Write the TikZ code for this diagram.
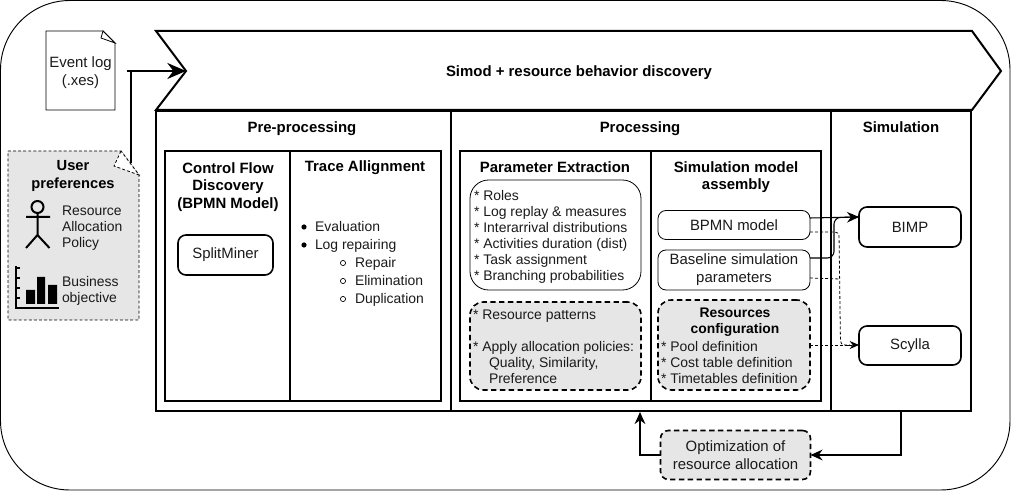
\documentclass[tikz,border=0pt]{standalone}
\usepackage{fontspec}
\setmainfont{Liberation Sans}
\usetikzlibrary{arrows.meta,calc}
\definecolor{fillgray}{HTML}{E6E6E6}
\definecolor{txt}{HTML}{1A1A1A}
\tikzset{
 x=0.75pt,y=-0.75pt,
 every node/.style={font=\fontsize{11.2}{13.5}\selectfont,text=txt,inner sep=0pt,outer sep=0pt,align=center},
 frame/.style={draw=black,line width=1.5pt},
 thinbox/.style={draw=black,line width=0.6pt,rounded corners=6pt,fill=white},
 boldbox/.style={draw=black,line width=1.2pt,rounded corners=6pt,fill=white},
 dashbox/.style={draw=black,line width=1.2pt,dash pattern=on 4pt off 2.6pt,rounded corners=10pt,fill=fillgray},
 head/.style={font=\bfseries\fontsize{11.2}{13}\selectfont,text=black},
 item/.style={align=left,anchor=north west,font=\fontsize{10.45}{12}\selectfont},
 flow/.style={draw=black,line width=1.3pt,-{Stealth[length=9pt,width=8pt]}},
 dflow/.style={draw=black,line width=0.6pt,dash pattern=on 2.2pt off 1.6pt},
}
\newcommand{\px}[2]{\path[use as bounding box] (0,0) rectangle (#1,#2);}
\begin{document}
\begin{tikzpicture}
\px{1011}{491}
% outer
\draw[black,line width=0.7pt,rounded corners=52pt] (0.5,0.5) rectangle (1010,490);
% simod arrow
\draw[frame,fill=white,line join=miter] (156,31) -- (972,31) -- (1001,71) -- (972,110) -- (156,110) -- (186,71) -- cycle;
\coordinate (tip) at (186,71);
\node[head] (simod) at (579,73) {Simod + resource behavior discovery};
% main frames
\node[frame,minimum width=221.25pt,minimum height=225pt,anchor=north west] (pre) at (156,111) {};
\node[frame,minimum width=285pt,minimum height=225pt,anchor=north west] (proc) at (451,111) {};
\node[frame,minimum width=105pt,minimum height=225pt,anchor=north west] (sim) at (831,111) {};
\node[head] (preT) at (302,129) {Pre-processing};
\node[head] (procT) at (640,129) {Processing};
\node[head] (simT) at (901,127) {Simulation};
% inner frames
\node[frame,minimum width=93.75pt,minimum height=187.5pt,anchor=north west] (cfd) at (165,151) {};
\node[frame,minimum width=113.25pt,minimum height=187.5pt,anchor=north west] (ta) at (290,151) {};
\node[frame,minimum width=143.25pt,minimum height=187.5pt,anchor=north west] (pe) at (460,151) {};
\node[frame,minimum width=127.5pt,minimum height=187.5pt,anchor=north west] (sma) at (651,151) {};
\node[head] (cfdT) at (228,187) {Control Flow\\Discovery\\(BPMN Model)};
\node[head] (taT) at (365,168) {Trace Allignment};
\node[head] (peT) at (555,167) {Parameter Extraction};
\node[head] (smaT) at (736,177) {Simulation model\\assembly};
\node[boldbox,minimum width=71.25pt,minimum height=30pt] (split) at (225.5,255) {SplitMiner};
% trace list
\node[item] (l1) at (315,221) {Evaluation};
\node[item] (l2) at (315,239) {Log repairing};
\node[item] (l3) at (355,257) {Repair};
\node[item] (l4) at (355,275) {Elimination};
\node[item] (l5) at (355,293) {Duplication};
\fill[black] (304,227) circle (2.6) (304,245) circle (2.6);
\draw[black,line width=0.5pt] (343,263) circle (2.6) (343,281) circle (2.6) (343,299) circle (2.6);
% parameter boxes
\node[thinbox,rounded corners=14pt,minimum width=128.25pt,minimum height=82.5pt] (roles) at (555.5,235) {};
\node[item] (rolesT) at (474,190.5) {* Roles\\* Log replay \& measures\\* Interarrival distributions\\* Activities duration (dist)\\* Task assignment\\* Branching probabilities};
\node[dashbox,minimum width=128.25pt,minimum height=66pt] (pat) at (555.5,346) {};
\node[item] (patT) at (473,310) {* Resource patterns\\[12pt]* Apply allocation policies:\\\hspace*{12pt}Quality, Similarity,\\\hspace*{12pt}Preference};
% simulation model assembly
\node[thinbox,minimum width=114pt,minimum height=21.75pt] (bpmn) at (734,225) {BPMN model};
\node[thinbox,minimum width=114pt,minimum height=30pt] (base) at (734,270) {Baseline simulation\\parameters};
\node[dashbox,minimum width=114pt,minimum height=67.5pt] (res) at (734,345) {};
\node[head,font=\bfseries\fontsize{10.4}{12}\selectfont] (resT) at (735,322) {Resources\\configuration};
\node[item] (resL) at (661,341) {* Pool definition\\* Cost table definition\\* Timetables definition};
% targets
\node[boldbox,minimum width=76.5pt,minimum height=30pt] (bimp) at (910,227) {BIMP};
\node[boldbox,minimum width=76.5pt,minimum height=29.25pt] (scylla) at (910,345.5) {Scylla};
\node[dashbox,rounded corners=6pt,minimum width=112.5pt,minimum height=36.75pt] (opt) at (735.5,455) {Optimization of\\resource allocation};
% connectors sim
\coordinate (bpmnS) at (810,218);
\coordinate (baseS) at (810,258);
\coordinate (bimpE) at (859,217);
\draw[black,line width=0.8pt] (bpmnS) -- (bimpE);
\draw[flow,rounded corners=5pt,line width=0.8pt] (baseS) -- (834,258) -- (834,217.5) -- (bimpE);
\coordinate (bpmnD) at (810,232);
\coordinate (baseD) at (810,278);
\coordinate (resD) at (810,345);
\coordinate (scyE) at (859,345);
\draw[dflow,rounded corners=3pt] (bpmnD) -- (839,232) -- (840.5,345) -- (850,345);
\draw[dflow] (baseD) -- (840,279);
\draw[dflow] (resD) -- (848,345);
\draw[black,line width=0.7pt,dash pattern=on 3pt off 1.5pt,-{Stealth[length=7pt,width=6pt]}] (848,345) -- (scyE);
% optimization loop
\coordinate (simB) at (901,411);
\coordinate (procB) at (640,412);
\draw[flow] (simB) -- (901,455) -- (opt.east);
\draw[flow] (opt.west) -- (640,455) -- (procB);
% event log doc
\draw[black,line width=0.7pt,fill=white] (46,31) -- (103,31) -- (115,43) -- (115,110) -- (46,110) -- cycle;
\draw[black,line width=0.6pt,fill=white] (103,31) -- (101,38) -- (115,43) -- cycle;
\node (ev) at (80.5,72.5) {Event log\\(.xes)};
% user preferences
\draw[black,line width=0.6pt,dash pattern=on 2.2pt off 1.6pt,fill=fillgray] (8,151) -- (121,151) -- (139,175) -- (139,320) -- (8,320) -- cycle;
\draw[black,line width=0.6pt,dash pattern=on 2.2pt off 1.6pt,fill=white] (121,151) -- (114,166) -- (139,175) -- cycle;
\node[head,font=\bfseries\fontsize{11}{13.5}\selectfont] (up) at (73,176) {User\\preferences};
\node[item] (rap) at (62,206) {Resource\\Allocation\\Policy};
\node[item] (bo) at (62,276) {Business\\objective};
% actor
\draw[black,line width=1.5pt] (37.5,207) circle (6);
\draw[black,line width=1.5pt] (37.5,213) -- (37.5,235) (26,217) -- (50,217) (26,248) -- (37.5,235) -- (49.5,248);
% chart
\draw[black,line width=1.5pt] (16,266) -- (16,308) -- (59,308);
\draw[black,line width=1pt] (16,268) -- (20,268) (16,278) -- (20,278) (16,288) -- (20,288) (16,298) -- (20,298);
\fill[black] (26,290) rectangle (35,304) (37,277) rectangle (45,304) (48,285) rectangle (57,304);
% inputs
\coordinate (evE) at (127,71);
\coordinate (upT) at (130.5,163);
\draw[black,line width=1.5pt] (upT) -- (130.5,71);
\draw[black,line width=1.5pt,-{Stealth[length=14pt,width=12pt]}] (evE) -- (tip);
\end{tikzpicture}
\end{document}
